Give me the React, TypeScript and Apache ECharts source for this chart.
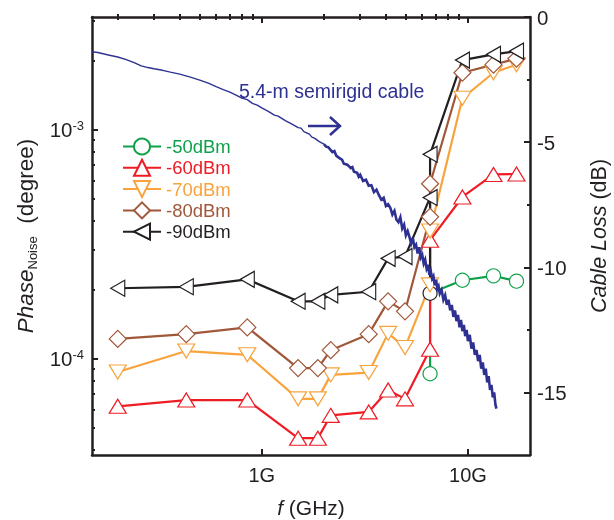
import React, { useEffect, useRef } from 'react';
import * as echarts from 'echarts';

const FONT = '"Liberation Sans", Arial, Helvetica, sans-serif';

// Frequencies (GHz)
const freqMain = [0.2, 0.43, 0.85, 1.5, 1.87, 2.16, 3.3, 4.1, 4.95, 6.55, 6.55, 9.4, 13.3, 17.2];
const freq90 = [0.2, 0.43, 0.85, 1.5, 1.87, 2.16, 3.3, 4.1, 4.95, 6.55, 6.55, 6.55, 9.4, 13.3, 17.2];
const freq50 = [6.55, 6.55, 9.4, 13.3, 17.2];

// Phase noise (degree)
const noise50 = [8.6e-5, 1.93e-4, 2.2e-4, 2.3e-4, 2.18e-4];
const noise60 = [6.2e-5, 6.6e-5, 6.6e-5, 4.5e-5, 4.5e-5, 5.66e-5, 5.86e-5, 7.3e-5, 6.68e-5, 1.1e-4, 3.29e-4, 5.08e-4, 6.37e-4, 6.4e-4];
const noise70 = [8.75e-5, 1.08e-4, 1.04e-4, 6.68e-5, 6.68e-5, 8.5e-5, 8.7e-5, 1.29e-4, 1.12e-4, 2.1e-4, 3.61e-4, 1.37e-3, 1.77e-3, 1.92e-3];
const noise80 = [1.22e-4, 1.28e-4, 1.37e-4, 9.1e-5, 9.1e-5, 1.09e-4, 1.28e-4, 1.78e-4, 1.61e-4, 4.16e-4, 5.8e-4, 1.77e-3, 1.92e-3, 2.04e-3];
const noise90 = [2.03e-4, 2.06e-4, 2.22e-4, 1.78e-4, 1.78e-4, 1.9e-4, 1.96e-4, 2.74e-4, 2.79e-4, 5.05e-4, 1.93e-4, 7.8e-4, 2.01e-3, 2.13e-3, 2.2e-3];
const hidden90 = 10; // the -90dBm point drawn under the dark circle (no triangle)
const dark50 = 1; // the -50dBm circle drawn with a dark outline

// Cable loss (dB) of the 5.4-m semirigid cable
const cableFreq = [0.15, 0.16, 0.17, 0.18, 0.2, 0.22, 0.24, 0.26, 0.28, 0.3, 0.33, 0.36, 0.4, 0.45, 0.5, 0.55, 0.6, 0.65, 0.7, 0.75, 0.8, 0.85, 0.9, 0.95, 1.0, 1.08, 1.15, 1.2, 1.3, 1.4, 1.5, 1.55, 1.6, 1.7, 1.75, 1.8, 1.9, 2.0, 2.05, 2.1, 2.2, 2.25, 2.3, 2.4, 2.45, 2.5, 2.6, 2.7, 2.75, 2.8, 2.9, 2.95, 3.0, 3.1, 3.2, 3.3, 3.4, 3.5, 3.6, 3.7, 3.8, 3.9, 4.0, 4.1, 4.2, 4.3, 4.4, 4.5, 4.6, 4.7, 4.8, 4.9, 5.0, 5.1, 5.2, 5.3, 5.4, 5.5, 5.6, 5.7, 5.8, 5.9, 6.0, 6.1, 6.2, 6.3, 6.4, 6.5, 6.6, 6.7, 6.8, 6.9, 7.0, 7.1, 7.2, 7.3, 7.45, 7.6, 7.75, 7.9, 8.05, 8.2, 8.35, 8.5, 8.65, 8.8, 8.95, 9.1, 9.25, 9.4, 9.55, 9.7, 9.85, 10.0, 10.2, 10.4, 10.6, 10.8, 11.0, 11.2, 11.4, 11.6, 11.8, 12.0, 12.2, 12.4, 12.6, 12.8, 13.0, 13.2, 13.4, 13.6, 13.75];
const cableLoss = [-1.39, -1.42, -1.47, -1.52, -1.6, -1.7, -1.82, -1.95, -2.02, -2.07, -2.13, -2.2, -2.28, -2.4, -2.52, -2.64, -2.78, -2.9, -3.0, -3.12, -3.24, -3.3, -3.45, -3.52, -3.63, -3.78, -3.92, -3.96, -4.14, -4.28, -4.42, -4.44, -4.58, -4.68, -4.8, -4.84, -4.98, -5.08, -5.18, -5.2, -5.4, -5.36, -5.55, -5.66, -5.7, -5.86, -5.9, -6.04, -6.0, -6.18, -6.22, -6.38, -6.3, -6.55, -6.5, -6.74, -6.72, -7.0, -6.9, -7.12, -7.3, -7.22, -7.55, -7.48, -7.62, -7.9, -7.75, -8.1, -8.2, -8.0, -8.45, -8.3, -8.72, -8.55, -8.78, -9.05, -8.82, -9.2, -9.1, -9.45, -9.2, -9.62, -9.5, -9.85, -9.7, -10.05, -9.9, -10.3, -10.15, -10.45, -10.35, -10.72, -10.5, -10.85, -10.75, -11.05, -10.9, -11.3, -11.12, -11.5, -11.3, -11.72, -11.5, -11.98, -11.72, -12.15, -11.9, -12.4, -12.1, -12.55, -12.3, -12.75, -12.5, -12.95, -12.7, -13.25, -13.0, -13.5, -13.3, -13.75, -13.5, -14.05, -13.8, -14.3, -14.05, -14.6, -14.35, -14.9, -14.7, -15.2, -15.0, -15.5, -15.65];
const cableSplit = 37; // index of 2.0 GHz: noise band begins to thicken here

// Axis ticks
const xMajorTicks = [1, 10];
const xMinorTicks = [0.2, 0.3, 0.4, 0.5, 0.6, 0.7, 0.8, 0.9, 2, 3, 4, 5, 6, 7, 8, 9];
const yMajorTicks = [1e-4, 1e-3];
const yMinorTicks = [4e-5, 5e-5, 6e-5, 7e-5, 8e-5, 9e-5, 2e-4, 3e-4, 4e-4, 5e-4, 6e-4, 7e-4, 8e-4, 9e-4, 2e-3, 3e-3];
const lossMajorTicks = [0, -5, -10, -15];
const lossMinorTicks = [-2.5, -7.5, -12.5];

const seriesNames = ['-50dBm', '-60dBm', '-70dBm', '-80dBm', '-90dBm'];
const seriesColors = ['#0FA14A', '#EE1C25', '#F8A33C', '#A0573A', '#231F20'];
const BLUE = '#2E3192';
const AXIS = '#231F20';

function pairs(xs: number[], ys: number[]) {
  return xs.map((x, i) => [x, ys[i]]);
}

export default function App() {
  const ref = useRef<HTMLDivElement>(null);
  useEffect(() => {
    if (!ref.current) return;
    const chart = echarts.init(ref.current, null, { renderer: 'svg' });

    const xBase: any = {
      type: 'log', logBase: 10, min: 0.15, max: 20, gridIndex: 0,
      splitLine: { show: false }, minorTick: { show: false }, minorSplitLine: { show: false },
    };
    const majorTick = (vals: number[]) => ({ show: true, inside: true, length: 6, customValues: vals, lineStyle: { color: AXIS, width: 2 } });
    const minorTick = (vals: number[]) => ({ show: true, inside: true, length: 3, customValues: vals, lineStyle: { color: AXIS, width: 2 } });
    const axisLineOn = { show: true, onZero: false, lineStyle: { color: AXIS, width: 2.5 } };

    const lineSeries = (name: string, color: string, symbol: string, size: any, rotate: number, data: any[]) => ({
      name, type: 'line', xAxisIndex: 0, yAxisIndex: 0,
      data,
      symbol, symbolSize: size, symbolRotate: rotate,
      showAllSymbol: true,
      lineStyle: { color, width: 2.2 },
      itemStyle: { color: '#ffffff', borderColor: color, borderWidth: 1.2 },
      emphasis: { disabled: true },
      z: 3,
    });

    const data50: any[] = pairs(freq50, noise50).map((p, i) =>
      i === dark50 ? { value: p, itemStyle: { borderColor: AXIS } } : p);
    const data90: any[] = pairs(freq90, noise90).map((p, i) =>
      i === hidden90 ? { value: p, symbol: 'none' } : p);
    const allCable = pairs(cableFreq, cableLoss);

    const option: any = {
      animation: false,
      textStyle: { fontFamily: FONT },
      grid: { left: 92, right: 84, top: 17, bottom: 65, containLabel: false, outerBoundsMode: 'none' },
      legend: {
        orient: 'vertical', left: 122, top: 137, padding: 0,
        itemWidth: 38, itemHeight: 20, itemGap: 2.3,
        selectedMode: false,
        textStyle: { fontSize: 18.5, fontFamily: FONT },
        data: seriesNames.map((n, i) => ({ name: n, textStyle: { color: seriesColors[i] } })),
      },
      xAxis: [
        {
          ...xBase, position: 'bottom', axisLine: axisLineOn,
          axisTick: majorTick(xMajorTicks),
          axisLabel: {
            customValues: xMajorTicks, margin: 10, fontSize: 20, color: AXIS, fontFamily: FONT,
            formatter: (v: number) => (Math.round(Math.log10(v)) === 0 ? '1G' : '10G'),
          },
          name: '{i|f} (GHz)', nameLocation: 'middle', nameGap: 42,
          nameTextStyle: { fontSize: 21, color: AXIS, fontFamily: FONT, rich: { i: { fontStyle: 'italic', fontSize: 21, color: AXIS, fontFamily: FONT } } },
        },
        { ...xBase, position: 'bottom', axisLine: { show: false }, axisTick: minorTick(xMinorTicks), axisLabel: { show: false } },
        { ...xBase, position: 'top', axisLine: axisLineOn, axisTick: majorTick(xMajorTicks), axisLabel: { show: false } },
        { ...xBase, position: 'top', axisLine: { show: false }, axisTick: minorTick(xMinorTicks), axisLabel: { show: false } },
      ],
      yAxis: [
        {
          type: 'log', logBase: 10, min: 3.8e-5, max: 3.1e-3, position: 'left', gridIndex: 0,
          splitLine: { show: false }, minorTick: { show: false },
          axisLine: axisLineOn, axisTick: majorTick(yMajorTicks),
          axisLabel: {
            customValues: yMajorTicks, margin: 8, color: AXIS,
            formatter: (v: number) => `{b|10}{s|${Math.round(Math.log10(v))}}`,
            rich: {
              b: { fontSize: 20.5, fontFamily: FONT, color: AXIS },
              s: { fontSize: 13, fontFamily: FONT, color: AXIS, verticalAlign: 'top' },
            },
          },
          name: '{i|Phase}{s|Noise}{n|  (degree)}', nameLocation: 'middle', nameGap: 40, nameRotate: 90,
          nameTextStyle: {
            color: AXIS,
            rich: {
              i: { fontStyle: 'italic', fontSize: 22.5, fontFamily: FONT, color: AXIS, lineHeight: 26 },
              s: { fontSize: 13, fontFamily: FONT, color: AXIS, lineHeight: 13, verticalAlign: 'bottom' },
              n: { fontSize: 22.5, fontFamily: FONT, color: AXIS, lineHeight: 26 },
            },
          },
        },
        {
          type: 'log', logBase: 10, min: 3.8e-5, max: 3.1e-3, position: 'left', gridIndex: 0,
          splitLine: { show: false }, minorTick: { show: false },
          axisLine: { show: false }, axisTick: minorTick(yMinorTicks), axisLabel: { show: false },
        },
        {
          type: 'value', min: -17.5, max: 0, position: 'right', gridIndex: 0,
          splitLine: { show: false },
          axisLine: axisLineOn, axisTick: majorTick(lossMajorTicks),
          axisLabel: { customValues: lossMajorTicks, margin: 7, fontSize: 20.5, color: AXIS, fontFamily: FONT },
          name: '{i|Cable Loss} (dB)', nameLocation: 'middle', nameGap: 58, nameRotate: 90,
          nameTextStyle: { fontSize: 21.5, color: AXIS, fontFamily: FONT, rich: { i: { fontStyle: 'italic', fontSize: 21.5, color: AXIS, fontFamily: FONT } } },
        },
        {
          type: 'value', min: -17.5, max: 0, position: 'right', gridIndex: 0,
          splitLine: { show: false },
          axisLine: { show: false }, axisTick: minorTick(lossMinorTicks), axisLabel: { show: false },
        },
      ],
      graphic: [
        {
          type: 'text', left: 239, top: 81,
          style: { text: '5.4-m semirigid cable', fill: BLUE, fontSize: 19.5, fontFamily: FONT },
        },
        { type: 'line', shape: { x1: 308, y1: 126, x2: 340, y2: 126 }, style: { stroke: BLUE, lineWidth: 2.5 } },
        { type: 'polyline', shape: { points: [[330, 117], [340, 126], [330, 135]] }, style: { stroke: BLUE, lineWidth: 2.5, fill: null } },
      ],
      series: [
        lineSeries(seriesNames[0], seriesColors[0], 'circle', 14, 0, data50),
        lineSeries(seriesNames[1], seriesColors[1], 'triangle', [17, 14], 0, pairs(freqMain, noise60)),
        lineSeries(seriesNames[2], seriesColors[2], 'triangle', [17, 14], 180, pairs(freqMain, noise70)),
        lineSeries(seriesNames[3], seriesColors[3], 'diamond', [17, 17], 0, pairs(freqMain, noise80)),
        lineSeries(seriesNames[4], seriesColors[4], 'triangle', [16, 14], 90, data90),
        {
          name: 'Cable loss', type: 'line', xAxisIndex: 0, yAxisIndex: 2,
          data: allCable.slice(0, cableSplit + 1), symbol: 'none',
          lineStyle: { color: BLUE, width: 1.4 }, emphasis: { disabled: true }, z: 5,
        },
        {
          name: 'Cable loss (noisy)', type: 'line', xAxisIndex: 0, yAxisIndex: 2,
          data: allCable.slice(cableSplit), symbol: 'none',
          lineStyle: { color: BLUE, width: 2.6, join: 'miter' }, emphasis: { disabled: true }, z: 5,
        },
      ],
    };
    chart.setOption(option);
    return () => chart.dispose();
  }, []);
  return <div ref={ref} style={{ position: 'fixed', left: 0, top: 0, width: 614, height: 520 }} />;
}
